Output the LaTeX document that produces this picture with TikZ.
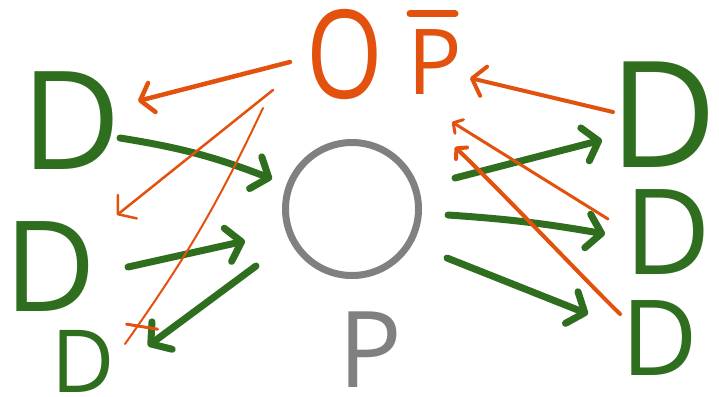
\documentclass[tikz,border=0pt]{standalone}
\usepackage{fontspec}
\setmainfont{Open Sans}
\usetikzlibrary{arrows.meta,calc}
\definecolor{sgreen}{RGB}{46,110,30}
\definecolor{sorange}{RGB}{226,82,14}
\definecolor{sgray}{RGB}{128,128,128}
\tikzset{
  dnode/.style={inner sep=0pt, text=sgreen, font=\fontsize{#1}{#1}\selectfont},
  onode/.style={inner sep=0pt, text=sorange, font=\fontsize{#1}{#1}\selectfont},
  pnode/.style={inner sep=0pt, text=sgray, font=\fontsize{#1}{#1}\selectfont},
  ring/.style={draw=sgray, line width=7pt, circle, minimum size=133pt, inner sep=0pt},
  garrow/.style={draw=sgreen, line width=7pt, line cap=round, line join=round,
    -{Straight Barb[length=14pt,width=34pt,round]}},
  oarrow/.style={draw=sorange, line width=#1, line cap=round, line join=round,
    -{Straight Barb[length=12pt,width=30pt,round]}},
  ohook/.style={draw=sorange, line width=#1, line cap=round, line join=round,
    -{Straight Barb[length=7pt,width=16pt,round]}},
  oline/.style={draw=sorange, line width=#1, line cap=round},
}
\begin{document}
\begin{tikzpicture}[x=1pt,y=-1pt]
\useasboundingbox (0,0) rectangle (719,396);
% letters
\node[dnode=137] (d1) at (71,121) {D};
\node[dnode=126] (d2) at (50,267) {D};
\node[dnode=87]  (d3) at (83,361) {D};
\node[dnode=148] (d4) at (663,115) {D};
\node[dnode=119] (d5) at (668,232) {D};
\node[dnode=105] (d6) at (660,338) {D};
\node[ring] (circ) at (352,209) {};
\node[pnode=106] (p) at (370,350) {P};
\node[onode=123] (o) at (345,55) {\scalebox{0.8}[1]{O}};
\node[onode=91] (pbar) at (435,62) {P};
\draw[oline=7pt] ([shift={(-25,-48)}]pbar.center) -- ([shift={(20,-48)}]pbar.center);
% green arrows
\draw[garrow] ([shift={(49,17)}]d1.center) to[bend left=6] ([shift={(-80,-30)}]circ.center);
\draw[garrow] ([shift={(78,0)}]d2.center) -- ([shift={(-107,32)}]circ.center);
\draw[garrow] ([shift={(-96,57)}]circ.center) -- ([shift={(65,-15)}]d3.center);
\draw[garrow] ([shift={(103,-31)}]circ.center) -- ([shift={(-61,25)}]d4.center);
\draw[garrow] ([shift={(96,6)}]circ.center) to[bend left=3] ([shift={(-63,2)}]d5.center);
\draw[garrow] ([shift={(95,49)}]circ.center) -- ([shift={(-72,-24)}]d6.center);
% orange arrows
\draw[oarrow=4.5pt] ([shift={(-55,7)}]o.center) -- ([shift={(67,-20)}]d1.center);
\draw[oarrow=2.5pt] ([shift={(-72,35)}]o.center) -- ([shift={(67,-52)}]d2.center);
\draw[oline=2pt] ([shift={(-82,53)}]o.center) to[bend left=5] coordinate[pos=0.93] (o3x) ([shift={(42,-17)}]d3.center);
\draw[oline=3pt] ([shift={(-11,-2)}]o3x) -- ([shift={(20,3)}]o3x);
\draw[oarrow=4pt] ([shift={(-50,-3)}]d4.center) -- ([shift={(35,16)}]pbar.center);
\draw[ohook=3pt] ([shift={(-60,-13)}]d5.center) -- ([shift={(17,60)}]pbar.center);
\draw[ohook=4pt] ([shift={(-40,-24)}]d6.center) .. controls ([shift={(-72,-55)}]d6.center) and ([shift={(72,135)}]pbar.center) .. ([shift={(20,85)}]pbar.center);
\end{tikzpicture}
\end{document}
